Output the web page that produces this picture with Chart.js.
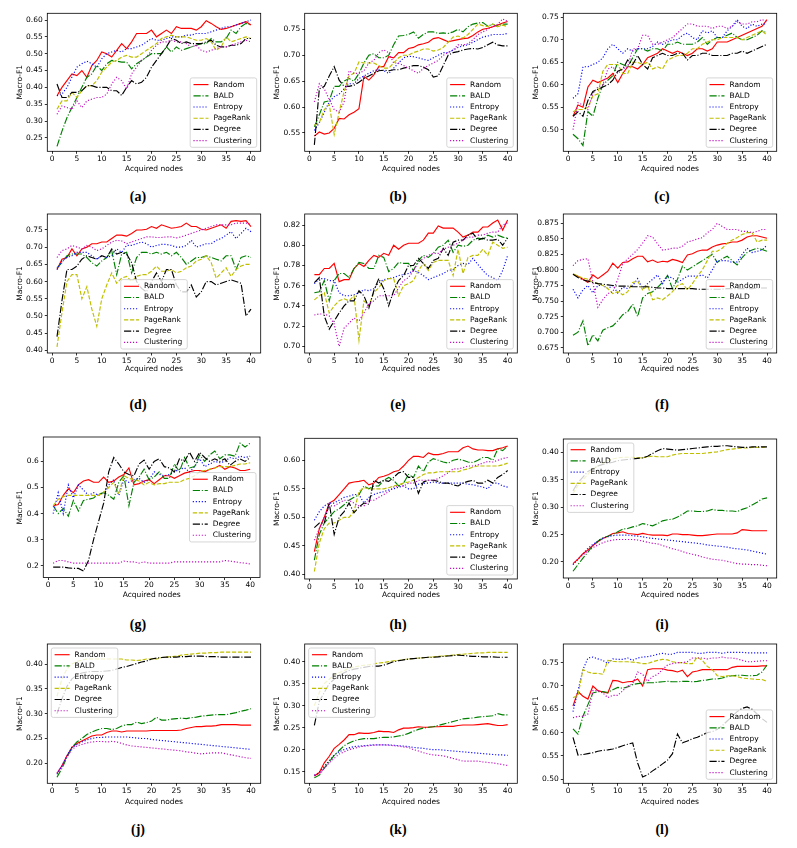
<!DOCTYPE html>
<html><head><meta charset="utf-8">
<script src="https://cdn.jsdelivr.net/npm/chart.js@4.4.0/dist/chart.umd.min.js"></script>
<style>
body{margin:0;background:#fff;width:797px;height:848px;position:relative;overflow:hidden}
canvas.pc{position:absolute}
.lbl{position:absolute;font-family:"Liberation Serif","DejaVu Serif",serif;font-weight:bold;font-size:14px;transform:translate(-50%,-50%);color:#000;white-space:nowrap}
</style></head><body>
<script>
// ---------- data ----------
const xNodes = [1,2,3,4,5,6,7,8,9,10,11,12,13,14,15,16,17,18,19,20,21,22,23,24,25,26,27,28,29,30,31,32,33,34,35,36,37,38,39,40];
const seriesNames = ['Random','BALD','Entropy','PageRank','Degree','Clustering'];
const panelLetters = ['(a)','(b)','(c)','(d)','(e)','(f)','(g)','(h)','(i)','(j)','(k)','(l)'];
const xTickLabelsStep = 5;

// panel (a)
const a_random = [0.375,0.40,0.42,0.44,0.435,0.45,0.43,0.465,0.48,0.505,0.50,0.49,0.51,0.53,0.515,0.535,0.56,0.56,0.56,0.57,0.55,0.56,0.57,0.56,0.58,0.575,0.575,0.575,0.57,0.58,0.598,0.59,0.58,0.572,0.575,0.58,0.585,0.59,0.595,0.585];
const a_bald = [0.225,0.27,0.31,0.34,0.37,0.40,0.43,0.44,0.465,0.45,0.47,0.48,0.478,0.475,0.475,0.455,0.47,0.48,0.49,0.50,0.50,0.50,0.52,0.505,0.52,0.51,0.515,0.52,0.525,0.53,0.53,0.545,0.535,0.535,0.545,0.57,0.56,0.58,0.59,0.585];
const a_entropy = [0.375,0.38,0.40,0.43,0.46,0.47,0.478,0.47,0.46,0.485,0.50,0.505,0.51,0.505,0.515,0.515,0.52,0.525,0.535,0.545,0.54,0.54,0.545,0.55,0.55,0.55,0.555,0.555,0.56,0.56,0.56,0.565,0.57,0.575,0.58,0.58,0.585,0.59,0.595,0.60];
const a_pagerank = [0.335,0.36,0.36,0.385,0.37,0.39,0.405,0.405,0.42,0.445,0.46,0.475,0.48,0.49,0.495,0.49,0.49,0.50,0.51,0.52,0.53,0.545,0.55,0.555,0.55,0.55,0.55,0.545,0.54,0.54,0.545,0.535,0.51,0.52,0.55,0.535,0.54,0.545,0.55,0.545];
const a_degree = [0.41,0.37,0.37,0.385,0.385,0.39,0.405,0.405,0.40,0.40,0.40,0.39,0.39,0.376,0.40,0.42,0.41,0.415,0.43,0.46,0.48,0.50,0.52,0.545,0.54,0.53,0.535,0.53,0.53,0.53,0.535,0.54,0.525,0.52,0.52,0.525,0.525,0.53,0.545,0.545];
const a_clustering = [0.32,0.345,0.34,0.335,0.36,0.34,0.36,0.365,0.37,0.37,0.38,0.41,0.43,0.42,0.395,0.44,0.46,0.48,0.49,0.51,0.525,0.535,0.535,0.54,0.535,0.535,0.53,0.52,0.525,0.51,0.505,0.51,0.515,0.52,0.52,0.525,0.53,0.535,0.54,0.535];
// panel (b)
const b_random = [0.544,0.552,0.548,0.55,0.559,0.578,0.577,0.585,0.59,0.597,0.659,0.652,0.662,0.678,0.678,0.697,0.695,0.705,0.705,0.713,0.715,0.72,0.722,0.725,0.732,0.734,0.73,0.726,0.728,0.73,0.732,0.733,0.738,0.745,0.75,0.752,0.755,0.758,0.762,0.765];
const b_bald = [0.562,0.585,0.61,0.612,0.64,0.64,0.65,0.655,0.65,0.665,0.685,0.70,0.703,0.695,0.695,0.70,0.72,0.737,0.738,0.74,0.745,0.733,0.74,0.745,0.745,0.742,0.743,0.742,0.745,0.75,0.745,0.755,0.76,0.762,0.763,0.756,0.76,0.755,0.76,0.76];
const b_entropy = [0.555,0.57,0.59,0.61,0.62,0.625,0.635,0.645,0.645,0.655,0.66,0.665,0.67,0.672,0.67,0.665,0.675,0.685,0.695,0.698,0.697,0.695,0.692,0.69,0.695,0.70,0.705,0.705,0.71,0.715,0.718,0.72,0.725,0.73,0.735,0.737,0.74,0.74,0.74,0.742];
const b_pagerank = [0.565,0.57,0.595,0.605,0.547,0.59,0.63,0.66,0.665,0.687,0.685,0.685,0.685,0.68,0.675,0.675,0.685,0.695,0.70,0.70,0.705,0.708,0.712,0.712,0.708,0.71,0.715,0.725,0.735,0.737,0.733,0.74,0.75,0.76,0.757,0.755,0.76,0.755,0.758,0.755];
const b_degree = [0.527,0.635,0.64,0.66,0.678,0.652,0.64,0.64,0.642,0.648,0.655,0.66,0.665,0.67,0.671,0.67,0.672,0.672,0.675,0.677,0.68,0.68,0.677,0.672,0.658,0.66,0.68,0.70,0.705,0.707,0.71,0.712,0.713,0.712,0.715,0.72,0.725,0.72,0.718,0.718];
const b_clustering = [0.61,0.645,0.635,0.615,0.595,0.59,0.61,0.67,0.665,0.665,0.67,0.685,0.69,0.705,0.71,0.705,0.685,0.685,0.68,0.675,0.67,0.665,0.675,0.68,0.685,0.69,0.70,0.705,0.71,0.72,0.72,0.722,0.73,0.74,0.745,0.75,0.755,0.76,0.77,0.765];
// panel (c)
const c_random = [0.53,0.555,0.55,0.595,0.61,0.605,0.61,0.615,0.625,0.605,0.625,0.64,0.64,0.635,0.645,0.66,0.665,0.67,0.68,0.675,0.67,0.675,0.67,0.665,0.67,0.68,0.68,0.675,0.68,0.695,0.695,0.695,0.70,0.705,0.71,0.715,0.72,0.725,0.73,0.745];
const c_bald = [0.49,0.48,0.465,0.54,0.53,0.57,0.60,0.61,0.62,0.65,0.645,0.64,0.66,0.68,0.68,0.675,0.68,0.68,0.675,0.69,0.69,0.695,0.69,0.69,0.69,0.695,0.705,0.69,0.70,0.705,0.705,0.71,0.715,0.705,0.70,0.70,0.705,0.71,0.72,0.715];
const c_entropy = [0.57,0.58,0.64,0.64,0.645,0.65,0.66,0.68,0.69,0.68,0.67,0.68,0.675,0.68,0.68,0.68,0.685,0.695,0.69,0.695,0.70,0.70,0.71,0.715,0.705,0.70,0.72,0.715,0.72,0.705,0.705,0.72,0.73,0.745,0.73,0.725,0.735,0.73,0.735,0.735];
const c_pagerank = [0.54,0.545,0.545,0.55,0.575,0.58,0.63,0.645,0.645,0.645,0.625,0.625,0.65,0.65,0.645,0.65,0.635,0.64,0.635,0.655,0.66,0.665,0.665,0.67,0.68,0.68,0.69,0.695,0.70,0.70,0.705,0.705,0.705,0.705,0.70,0.705,0.71,0.715,0.72,0.71];
const c_degree = [0.53,0.54,0.53,0.565,0.585,0.59,0.595,0.60,0.61,0.63,0.635,0.655,0.645,0.665,0.645,0.635,0.66,0.665,0.67,0.665,0.665,0.67,0.67,0.655,0.665,0.665,0.67,0.67,0.665,0.665,0.665,0.665,0.67,0.67,0.675,0.67,0.675,0.68,0.685,0.69];
const c_clustering = [0.50,0.56,0.555,0.545,0.58,0.595,0.60,0.635,0.64,0.625,0.635,0.64,0.68,0.68,0.71,0.71,0.69,0.69,0.695,0.70,0.705,0.715,0.725,0.735,0.735,0.73,0.73,0.73,0.725,0.73,0.73,0.725,0.73,0.74,0.735,0.735,0.74,0.74,0.745,0.74];
// panel (d)
const d_random = [0.635,0.665,0.67,0.695,0.675,0.695,0.70,0.71,0.71,0.715,0.715,0.725,0.735,0.735,0.732,0.74,0.75,0.75,0.752,0.76,0.755,0.765,0.76,0.755,0.757,0.76,0.77,0.76,0.76,0.752,0.75,0.755,0.76,0.765,0.755,0.775,0.777,0.775,0.777,0.76];
const d_bald = [0.64,0.655,0.675,0.68,0.68,0.68,0.67,0.655,0.645,0.66,0.67,0.69,0.62,0.68,0.685,0.625,0.67,0.685,0.685,0.68,0.685,0.68,0.685,0.675,0.685,0.67,0.65,0.66,0.67,0.67,0.675,0.67,0.665,0.66,0.675,0.675,0.635,0.67,0.675,0.67];
const d_entropy = [0.635,0.66,0.67,0.675,0.685,0.685,0.685,0.675,0.665,0.675,0.67,0.675,0.695,0.685,0.705,0.705,0.71,0.715,0.71,0.70,0.705,0.708,0.708,0.705,0.70,0.70,0.705,0.72,0.70,0.705,0.71,0.71,0.72,0.725,0.735,0.745,0.725,0.74,0.755,0.745];
const d_pagerank = [0.41,0.51,0.60,0.62,0.62,0.55,0.585,0.52,0.47,0.55,0.59,0.625,0.595,0.61,0.615,0.60,0.615,0.62,0.62,0.63,0.645,0.63,0.63,0.635,0.625,0.63,0.64,0.645,0.66,0.665,0.675,0.655,0.61,0.625,0.64,0.615,0.635,0.645,0.65,0.65];
const d_degree = [0.44,0.545,0.635,0.635,0.645,0.665,0.675,0.67,0.665,0.675,0.67,0.695,0.68,0.685,0.68,0.655,0.60,0.58,0.57,0.60,0.625,0.60,0.635,0.635,0.59,0.57,0.57,0.59,0.555,0.57,0.60,0.60,0.59,0.595,0.60,0.605,0.60,0.595,0.50,0.52];
const d_clustering = [0.67,0.69,0.695,0.705,0.70,0.695,0.705,0.70,0.69,0.695,0.705,0.715,0.72,0.718,0.71,0.715,0.72,0.725,0.73,0.73,0.728,0.728,0.73,0.73,0.727,0.73,0.735,0.74,0.745,0.75,0.755,0.76,0.765,0.765,0.765,0.765,0.77,0.77,0.77,0.765];
// panel (e)
const e_random = [0.771,0.771,0.777,0.777,0.782,0.764,0.766,0.766,0.777,0.782,0.779,0.785,0.790,0.788,0.792,0.790,0.800,0.796,0.800,0.802,0.802,0.802,0.805,0.812,0.812,0.819,0.817,0.817,0.817,0.813,0.808,0.810,0.813,0.813,0.818,0.818,0.822,0.825,0.815,0.825];
const e_bald = [0.753,0.754,0.765,0.745,0.765,0.772,0.772,0.768,0.777,0.783,0.782,0.777,0.777,0.790,0.788,0.774,0.777,0.783,0.782,0.782,0.775,0.785,0.790,0.788,0.792,0.798,0.800,0.805,0.793,0.800,0.799,0.800,0.805,0.807,0.806,0.810,0.808,0.810,0.808,0.807];
const e_entropy = [0.762,0.767,0.767,0.765,0.765,0.753,0.750,0.750,0.751,0.753,0.756,0.755,0.757,0.763,0.766,0.767,0.768,0.770,0.771,0.772,0.775,0.773,0.770,0.766,0.768,0.770,0.772,0.775,0.776,0.780,0.782,0.781,0.787,0.781,0.775,0.770,0.768,0.765,0.775,0.790];
const e_pagerank = [0.746,0.750,0.753,0.733,0.740,0.745,0.747,0.745,0.750,0.706,0.745,0.740,0.753,0.758,0.765,0.767,0.767,0.750,0.760,0.762,0.765,0.775,0.782,0.775,0.783,0.785,0.785,0.785,0.770,0.796,0.772,0.788,0.790,0.790,0.796,0.790,0.803,0.800,0.797,0.798];
const e_degree = [0.763,0.768,0.730,0.717,0.725,0.733,0.740,0.745,0.745,0.755,0.750,0.738,0.755,0.767,0.757,0.740,0.755,0.765,0.770,0.780,0.780,0.787,0.782,0.777,0.785,0.787,0.797,0.790,0.803,0.805,0.805,0.810,0.812,0.805,0.807,0.805,0.805,0.806,0.800,0.807];
const e_clustering = [0.731,0.732,0.732,0.730,0.722,0.700,0.718,0.723,0.728,0.725,0.733,0.742,0.745,0.750,0.750,0.750,0.750,0.758,0.765,0.768,0.775,0.783,0.787,0.790,0.792,0.792,0.796,0.798,0.800,0.802,0.805,0.808,0.808,0.810,0.810,0.812,0.813,0.813,0.820,0.822];
// panel (f)
const f_random = [0.793,0.790,0.785,0.780,0.792,0.786,0.792,0.798,0.811,0.803,0.812,0.813,0.818,0.822,0.822,0.813,0.816,0.812,0.814,0.813,0.817,0.815,0.812,0.824,0.826,0.830,0.832,0.832,0.837,0.840,0.842,0.843,0.845,0.845,0.848,0.853,0.855,0.855,0.853,0.851];
const f_bald = [0.695,0.700,0.718,0.678,0.696,0.686,0.703,0.707,0.710,0.718,0.728,0.733,0.745,0.725,0.755,0.762,0.765,0.772,0.780,0.791,0.770,0.785,0.806,0.800,0.805,0.810,0.815,0.820,0.825,0.812,0.818,0.822,0.815,0.808,0.820,0.828,0.832,0.835,0.833,0.830];
const f_entropy = [0.769,0.755,0.768,0.775,0.763,0.775,0.775,0.770,0.775,0.763,0.772,0.770,0.775,0.786,0.770,0.778,0.785,0.792,0.778,0.790,0.787,0.780,0.785,0.790,0.790,0.790,0.792,0.787,0.800,0.815,0.815,0.815,0.812,0.813,0.825,0.835,0.828,0.830,0.832,0.840];
const f_pagerank = [0.794,0.790,0.787,0.785,0.780,0.778,0.775,0.770,0.762,0.765,0.760,0.765,0.780,0.782,0.768,0.775,0.752,0.755,0.752,0.758,0.765,0.775,0.778,0.768,0.778,0.790,0.800,0.815,0.830,0.830,0.835,0.843,0.848,0.852,0.857,0.860,0.860,0.845,0.848,0.848];
const f_degree = [0.793,0.788,0.784,0.782,0.780,0.778,0.777,0.776,0.775,0.774,0.774,0.774,0.773,0.773,0.773,0.773,0.772,0.771,0.771,0.770,0.770,0.770,0.770,0.770,0.770,0.769,0.769,0.769,0.769,0.769,0.769,0.770,0.770,0.770,0.770,0.770,0.770,0.771,0.771,0.771];
const f_clustering = [0.807,0.815,0.817,0.818,0.780,0.740,0.752,0.762,0.765,0.785,0.810,0.818,0.825,0.833,0.843,0.855,0.853,0.842,0.832,0.833,0.835,0.835,0.838,0.845,0.847,0.850,0.852,0.860,0.865,0.875,0.870,0.865,0.865,0.865,0.862,0.862,0.860,0.862,0.865,0.865];
// panel (g)
const g_random = [0.43,0.435,0.47,0.495,0.48,0.51,0.525,0.53,0.52,0.52,0.54,0.52,0.525,0.54,0.55,0.575,0.51,0.515,0.525,0.53,0.515,0.53,0.545,0.545,0.535,0.545,0.555,0.56,0.565,0.565,0.56,0.57,0.575,0.585,0.57,0.58,0.575,0.565,0.565,0.57];
const g_bald = [0.43,0.40,0.42,0.39,0.45,0.41,0.45,0.455,0.46,0.475,0.48,0.47,0.455,0.52,0.545,0.43,0.52,0.54,0.57,0.53,0.54,0.56,0.535,0.535,0.59,0.56,0.615,0.575,0.58,0.625,0.60,0.625,0.64,0.61,0.625,0.625,0.62,0.67,0.655,0.67];
const g_entropy = [0.40,0.48,0.40,0.51,0.46,0.51,0.49,0.47,0.48,0.47,0.48,0.51,0.53,0.47,0.53,0.52,0.53,0.535,0.52,0.53,0.56,0.55,0.545,0.55,0.56,0.57,0.575,0.56,0.58,0.61,0.58,0.59,0.60,0.595,0.60,0.615,0.61,0.62,0.615,0.62];
const g_pagerank = [0.43,0.455,0.465,0.47,0.47,0.47,0.47,0.47,0.47,0.47,0.48,0.50,0.52,0.475,0.545,0.535,0.53,0.525,0.51,0.52,0.51,0.515,0.515,0.52,0.52,0.52,0.53,0.535,0.545,0.56,0.565,0.57,0.575,0.58,0.58,0.58,0.585,0.59,0.59,0.595];
const g_degree = [0.195,0.195,0.195,0.192,0.19,0.19,0.18,0.22,0.30,0.37,0.44,0.56,0.615,0.59,0.56,0.55,0.545,0.59,0.605,0.57,0.60,0.61,0.58,0.575,0.56,0.61,0.60,0.635,0.60,0.635,0.615,0.60,0.61,0.60,0.61,0.585,0.60,0.61,0.60,0.615];
const g_clustering = [0.21,0.22,0.22,0.215,0.21,0.21,0.21,0.21,0.21,0.21,0.21,0.21,0.21,0.21,0.218,0.215,0.215,0.21,0.215,0.21,0.21,0.21,0.21,0.21,0.215,0.215,0.215,0.215,0.215,0.215,0.215,0.215,0.215,0.215,0.22,0.218,0.215,0.212,0.21,0.207];
// panel (h)
const h_random = [0.44,0.48,0.50,0.525,0.53,0.54,0.55,0.56,0.562,0.563,0.565,0.557,0.56,0.57,0.572,0.575,0.58,0.582,0.59,0.60,0.607,0.607,0.605,0.613,0.61,0.61,0.612,0.615,0.615,0.615,0.622,0.625,0.62,0.618,0.618,0.617,0.617,0.62,0.622,0.625];
const h_bald = [0.425,0.47,0.49,0.50,0.51,0.515,0.522,0.53,0.535,0.54,0.555,0.55,0.555,0.555,0.565,0.57,0.565,0.555,0.56,0.575,0.57,0.59,0.58,0.597,0.603,0.60,0.597,0.595,0.60,0.602,0.60,0.597,0.596,0.60,0.605,0.605,0.60,0.62,0.617,0.625];
const h_entropy = [0.495,0.51,0.52,0.525,0.525,0.53,0.535,0.537,0.54,0.54,0.525,0.535,0.54,0.543,0.545,0.548,0.55,0.553,0.555,0.55,0.55,0.558,0.56,0.56,0.562,0.56,0.56,0.56,0.56,0.56,0.56,0.558,0.557,0.555,0.553,0.55,0.56,0.56,0.555,0.553];
const h_pagerank = [0.405,0.455,0.48,0.49,0.49,0.495,0.50,0.50,0.51,0.545,0.552,0.55,0.55,0.55,0.55,0.552,0.555,0.557,0.56,0.562,0.565,0.57,0.575,0.578,0.578,0.58,0.58,0.58,0.58,0.58,0.583,0.585,0.588,0.59,0.59,0.59,0.59,0.59,0.592,0.595];
const h_degree = [0.482,0.49,0.49,0.525,0.47,0.50,0.51,0.525,0.508,0.518,0.525,0.523,0.565,0.56,0.565,0.563,0.57,0.578,0.58,0.57,0.57,0.542,0.562,0.565,0.565,0.563,0.56,0.56,0.557,0.555,0.56,0.563,0.565,0.56,0.56,0.565,0.56,0.57,0.575,0.582];
const h_clustering = [0.46,0.48,0.50,0.52,0.52,0.525,0.53,0.53,0.525,0.52,0.52,0.53,0.53,0.535,0.54,0.545,0.553,0.555,0.555,0.56,0.56,0.565,0.565,0.565,0.565,0.568,0.573,0.578,0.585,0.585,0.587,0.59,0.59,0.592,0.595,0.598,0.597,0.600,0.603,0.605];
// panel (i)
const i_random = [0.197,0.205,0.215,0.222,0.23,0.237,0.243,0.247,0.252,0.253,0.255,0.252,0.251,0.250,0.252,0.250,0.249,0.249,0.249,0.248,0.251,0.251,0.250,0.250,0.249,0.248,0.248,0.249,0.250,0.251,0.251,0.251,0.251,0.253,0.259,0.258,0.257,0.257,0.257,0.257];
const i_bald = [0.183,0.195,0.207,0.218,0.23,0.238,0.244,0.247,0.25,0.255,0.26,0.261,0.264,0.266,0.27,0.268,0.266,0.27,0.275,0.277,0.278,0.282,0.287,0.293,0.293,0.292,0.292,0.293,0.296,0.294,0.294,0.293,0.293,0.292,0.296,0.299,0.304,0.309,0.315,0.317];
const i_entropy = [0.195,0.205,0.215,0.225,0.232,0.238,0.243,0.246,0.248,0.249,0.249,0.249,0.248,0.247,0.246,0.244,0.243,0.242,0.241,0.240,0.239,0.238,0.237,0.236,0.235,0.234,0.233,0.231,0.230,0.229,0.228,0.227,0.225,0.224,0.223,0.222,0.220,0.218,0.216,0.214];
const i_pagerank = [0.325,0.34,0.35,0.36,0.37,0.375,0.38,0.385,0.388,0.39,0.391,0.391,0.391,0.39,0.39,0.392,0.393,0.392,0.392,0.392,0.395,0.397,0.398,0.398,0.398,0.398,0.398,0.399,0.400,0.401,0.403,0.405,0.406,0.407,0.408,0.408,0.409,0.409,0.409,0.410];
const i_degree = [0.33,0.345,0.355,0.365,0.37,0.375,0.378,0.38,0.382,0.385,0.386,0.387,0.388,0.389,0.39,0.393,0.398,0.403,0.407,0.406,0.405,0.404,0.405,0.406,0.407,0.408,0.409,0.410,0.411,0.411,0.412,0.412,0.411,0.41,0.409,0.409,0.41,0.41,0.41,0.41];
const i_clustering = [0.195,0.205,0.213,0.22,0.226,0.231,0.235,0.238,0.24,0.241,0.241,0.241,0.241,0.24,0.238,0.236,0.234,0.233,0.23,0.227,0.224,0.222,0.219,0.216,0.214,0.212,0.209,0.207,0.205,0.204,0.203,0.201,0.199,0.197,0.196,0.196,0.195,0.195,0.194,0.193];
// panel (j)
const j_random = [0.18,0.195,0.215,0.232,0.24,0.245,0.25,0.255,0.257,0.257,0.262,0.265,0.265,0.263,0.265,0.265,0.265,0.265,0.265,0.266,0.266,0.266,0.266,0.266,0.266,0.267,0.27,0.272,0.274,0.274,0.275,0.275,0.276,0.278,0.278,0.278,0.278,0.277,0.277,0.277];
const j_bald = [0.172,0.19,0.212,0.232,0.243,0.25,0.258,0.263,0.267,0.27,0.27,0.268,0.27,0.275,0.278,0.278,0.283,0.28,0.282,0.285,0.293,0.287,0.287,0.289,0.29,0.291,0.29,0.292,0.293,0.295,0.296,0.297,0.298,0.298,0.298,0.3,0.302,0.305,0.307,0.31];
const j_entropy = [0.178,0.195,0.215,0.232,0.238,0.243,0.247,0.25,0.252,0.252,0.253,0.253,0.253,0.253,0.253,0.252,0.251,0.25,0.25,0.248,0.247,0.246,0.245,0.244,0.243,0.242,0.241,0.24,0.239,0.238,0.237,0.236,0.235,0.234,0.233,0.232,0.231,0.23,0.229,0.228];
const j_pagerank = [0.335,0.37,0.39,0.40,0.405,0.408,0.41,0.41,0.41,0.41,0.41,0.41,0.41,0.41,0.408,0.408,0.407,0.408,0.41,0.41,0.41,0.413,0.414,0.415,0.416,0.418,0.419,0.42,0.421,0.422,0.422,0.423,0.423,0.424,0.424,0.424,0.424,0.424,0.424,0.424];
const j_degree = [0.30,0.33,0.355,0.37,0.378,0.382,0.384,0.385,0.385,0.385,0.386,0.387,0.39,0.393,0.395,0.398,0.401,0.404,0.406,0.41,0.412,0.413,0.414,0.414,0.414,0.415,0.415,0.416,0.416,0.416,0.415,0.415,0.415,0.414,0.414,0.414,0.414,0.414,0.414,0.414];
const j_clustering = [0.18,0.195,0.213,0.228,0.235,0.238,0.241,0.243,0.244,0.244,0.243,0.244,0.243,0.24,0.237,0.235,0.234,0.233,0.232,0.231,0.23,0.229,0.228,0.227,0.226,0.225,0.223,0.222,0.22,0.219,0.22,0.221,0.221,0.221,0.219,0.217,0.215,0.213,0.211,0.21];
// panel (k)
const k_random = [0.14,0.148,0.17,0.185,0.203,0.212,0.222,0.234,0.234,0.238,0.237,0.237,0.239,0.242,0.241,0.241,0.239,0.245,0.249,0.249,0.25,0.252,0.251,0.251,0.252,0.252,0.253,0.253,0.253,0.255,0.256,0.256,0.256,0.257,0.258,0.259,0.257,0.255,0.255,0.257];
const k_bald = [0.136,0.142,0.158,0.172,0.187,0.198,0.209,0.215,0.22,0.223,0.225,0.225,0.225,0.227,0.228,0.228,0.229,0.231,0.233,0.237,0.242,0.246,0.249,0.251,0.252,0.255,0.258,0.261,0.264,0.267,0.27,0.271,0.272,0.274,0.275,0.276,0.277,0.282,0.279,0.279];
const k_entropy = [0.142,0.148,0.162,0.175,0.188,0.195,0.2,0.204,0.207,0.208,0.209,0.21,0.211,0.211,0.211,0.211,0.21,0.209,0.208,0.207,0.205,0.204,0.203,0.201,0.2,0.2,0.199,0.198,0.197,0.196,0.195,0.194,0.193,0.192,0.191,0.19,0.189,0.188,0.188,0.187];
const k_pagerank = [0.30,0.33,0.35,0.36,0.37,0.375,0.38,0.385,0.388,0.39,0.392,0.393,0.395,0.397,0.398,0.4,0.402,0.403,0.405,0.406,0.407,0.408,0.409,0.41,0.411,0.412,0.413,0.414,0.415,0.416,0.417,0.418,0.419,0.42,0.42,0.421,0.421,0.421,0.421,0.421];
const k_degree = [0.255,0.31,0.33,0.35,0.36,0.368,0.375,0.38,0.383,0.385,0.387,0.389,0.39,0.39,0.392,0.396,0.4,0.402,0.404,0.406,0.407,0.408,0.409,0.41,0.41,0.411,0.412,0.413,0.414,0.415,0.414,0.413,0.412,0.412,0.411,0.411,0.411,0.41,0.41,0.41];
const k_clustering = [0.142,0.145,0.158,0.17,0.18,0.19,0.195,0.2,0.203,0.206,0.208,0.209,0.21,0.211,0.211,0.21,0.209,0.208,0.206,0.205,0.2,0.197,0.193,0.19,0.188,0.187,0.186,0.183,0.18,0.177,0.174,0.174,0.174,0.174,0.172,0.171,0.17,0.168,0.166,0.164];
// panel (l)
const l_random = [0.657,0.688,0.678,0.672,0.70,0.69,0.687,0.685,0.712,0.711,0.707,0.709,0.71,0.715,0.70,0.735,0.737,0.737,0.737,0.734,0.733,0.73,0.734,0.72,0.73,0.732,0.735,0.735,0.735,0.735,0.735,0.735,0.74,0.742,0.742,0.742,0.742,0.742,0.743,0.743];
const l_bald = [0.608,0.597,0.635,0.66,0.685,0.688,0.688,0.686,0.692,0.697,0.695,0.698,0.703,0.705,0.706,0.707,0.707,0.708,0.709,0.71,0.709,0.709,0.71,0.71,0.709,0.71,0.712,0.713,0.715,0.715,0.717,0.72,0.722,0.723,0.723,0.722,0.722,0.723,0.73,0.745];
const l_entropy = [0.645,0.69,0.735,0.76,0.762,0.758,0.755,0.748,0.758,0.757,0.757,0.76,0.755,0.76,0.762,0.763,0.765,0.768,0.77,0.768,0.768,0.772,0.772,0.772,0.772,0.77,0.77,0.772,0.772,0.772,0.77,0.772,0.772,0.772,0.772,0.771,0.771,0.771,0.771,0.771];
const l_pagerank = [0.675,0.68,0.735,0.73,0.727,0.727,0.725,0.755,0.753,0.752,0.752,0.752,0.751,0.75,0.748,0.748,0.752,0.755,0.757,0.756,0.752,0.75,0.75,0.748,0.748,0.762,0.755,0.742,0.735,0.722,0.72,0.722,0.722,0.72,0.717,0.716,0.715,0.714,0.714,0.71];
const l_degree = [0.59,0.552,0.553,0.555,0.557,0.56,0.562,0.563,0.565,0.568,0.572,0.575,0.578,0.535,0.505,0.51,0.518,0.525,0.533,0.541,0.555,0.597,0.578,0.582,0.587,0.59,0.595,0.60,0.602,0.607,0.615,0.625,0.635,0.645,0.652,0.655,0.65,0.64,0.63,0.622];
const l_clustering = [0.632,0.635,0.635,0.64,0.69,0.69,0.685,0.675,0.68,0.68,0.69,0.70,0.705,0.73,0.725,0.71,0.72,0.725,0.735,0.745,0.748,0.75,0.75,0.752,0.76,0.76,0.76,0.758,0.76,0.76,0.762,0.76,0.76,0.758,0.755,0.752,0.752,0.753,0.754,0.754];

// y-axis ranges and tick steps
const yLow  = [0.2102,0.5147,0.452,0.3923,0.6934,0.6664,0.155,0.3918,0.1707,0.1597,0.1235,0.4914];
const yHigh = [0.6199,0.7808,0.7589,0.7964,0.8309,0.890,0.6936,0.6386,0.4244,0.4403,0.4402,0.79];
const yStep = [0.05,0.05,0.05,0.05,0.02,0.025,0.1,0.05,0.05,0.05,0.05,0.05];
const yDecimals = [2,2,2,2,2,3,1,2,2,2,2,2];

const panelData = [
  [a_random,a_bald,a_entropy,a_pagerank,a_degree,a_clustering],
  [b_random,b_bald,b_entropy,b_pagerank,b_degree,b_clustering],
  [c_random,c_bald,c_entropy,c_pagerank,c_degree,c_clustering],
  [d_random,d_bald,d_entropy,d_pagerank,d_degree,d_clustering],
  [e_random,e_bald,e_entropy,e_pagerank,e_degree,e_clustering],
  [f_random,f_bald,f_entropy,f_pagerank,f_degree,f_clustering],
  [g_random,g_bald,g_entropy,g_pagerank,g_degree,g_clustering],
  [h_random,h_bald,h_entropy,h_pagerank,h_degree,h_clustering],
  [i_random,i_bald,i_entropy,i_pagerank,i_degree,i_clustering],
  [j_random,j_bald,j_entropy,j_pagerank,j_degree,j_clustering],
  [k_random,k_bald,k_entropy,k_pagerank,k_degree,k_clustering],
  [l_random,l_bald,l_entropy,l_pagerank,l_degree,l_clustering]
];

// ---------- styles & layout ----------
const seriesColors = ['#ff0000','#008000','#0000ff','#bfbf00','#000000','#bf00bf'];
const seriesDash = [[], [7.2,1.8,1.1,1.8], [1.1,1.9], [4.2,1.8], [7.2,1.8,1.1,1.8], [1.1,1.9]];
const legendLoc = ['lr','lr','lr','lc','lr','lr','cr','lr','ul','ul','ul','lr'];
// plot box: left, right, top, bottom ; y-title center x ; x-title center y
const geom = [
  [47.3,260.7,13.3,151.3,20,169],[304.7,517.3,13.3,151.3,277.3,169],[563.3,776.7,13.3,151.3,536,169],
  [47.3,260.7,214,353,20,369],[304.7,517.3,214,353,277.3,369],[563.3,776.7,214,353,536,369],
  [43.3,260,437,577.5,20,595.5],[304.7,517.3,438.3,579,277.3,595.5],[563.3,776.7,439,578,536,595.5],
  [47.3,260.7,644,783.3,20,802],[304.7,517.3,644,783.3,277.3,802],[563.3,776.7,644,783.3,536,802]
];
const letterPos = [[138,197],[398,197],[662,197],[138,405],[398,405],[662,405],[138,625],[398,625],[662,625],[138,830],[398,830],[662,830]];

const FONT = 'DejaVu Sans';
const FS = 7.5;

const frameAndLegend = {
  id: 'frameAndLegend',
  afterDatasetsDraw(chart, args, opts) {
    const ctx = chart.ctx, ca = chart.chartArea;
    ctx.save();
    ctx.strokeStyle = '#000'; ctx.lineWidth = 0.8; ctx.setLineDash([]);
    ctx.strokeRect(ca.left, ca.top, ca.right - ca.left, ca.bottom - ca.top);
    ctx.font = FS + 'px "' + FONT + '"';
    const ds = chart.data.datasets;
    const maxW = Math.max(...ds.map(d => ctx.measureText(d.label).width));
    const w = 23.3 + maxW + 5, rowH = 11.2, h = 6.7 * 2 + rowH * (ds.length - 1), pad = 4;
    let x, y;
    if (opts.loc === 'lr') { x = ca.right - pad - w; y = ca.bottom - pad - h; }
    else if (opts.loc === 'ul') { x = ca.left + pad; y = ca.top + pad; }
    else if (opts.loc === 'cr') { x = ca.right - pad - w; y = (ca.top + ca.bottom) / 2 - h / 2; }
    else { x = (ca.left + ca.right) / 2 - w / 2; y = ca.bottom - pad - h; }
    ctx.beginPath();
    if (ctx.roundRect) ctx.roundRect(x, y, w, h, 2); else ctx.rect(x, y, w, h);
    ctx.fillStyle = 'rgba(255,255,255,0.8)'; ctx.fill();
    ctx.strokeStyle = '#cccccc'; ctx.lineWidth = 0.8; ctx.stroke();
    ds.forEach((d, i) => {
      const cy = y + 6.7 + i * rowH;
      ctx.beginPath();
      ctx.setLineDash(d.borderDash || []);
      ctx.strokeStyle = d.borderColor; ctx.lineWidth = d.borderWidth;
      ctx.moveTo(x + 3.3, cy); ctx.lineTo(x + 18.3, cy); ctx.stroke();
      ctx.setLineDash([]);
      ctx.fillStyle = '#000'; ctx.textBaseline = 'middle'; ctx.textAlign = 'left';
      ctx.fillText(d.label, x + 23.3, cy);
    });
    ctx.restore();
  }
};

panelData.forEach((series, p) => {
  const [bL, bR, bT, bB, ytX, xtY] = geom[p];
  const cLeft = Math.round(ytX - FS * 1.2 / 2);
  const cTop = Math.round(bT - 8);
  const cWidth = Math.ceil(bR + 8 - cLeft);
  const cHeight = Math.ceil(xtY + FS * 1.2 / 2 - cTop);
  const yW = bL - cLeft;
  const padTop = bT - cTop;
  const padRight = cWidth - (bR - cLeft);
  const padBottom = (cTop + cHeight) - (xtY + FS * 1.2 / 2);
  const xH = (xtY + FS * 1.2 / 2) - bB;

  const cv = document.createElement('canvas');
  cv.className = 'pc';
  cv.width = cWidth; cv.height = cHeight;
  cv.style.left = cLeft + 'px'; cv.style.top = cTop + 'px';
  cv.style.width = cWidth + 'px'; cv.style.height = cHeight + 'px';
  document.body.appendChild(cv);

  const lab = document.createElement('div');
  lab.className = 'lbl';
  lab.textContent = panelLetters[p];
  lab.style.left = letterPos[p][0] + 'px'; lab.style.top = letterPos[p][1] + 'px';
  document.body.appendChild(lab);

  const datasets = series.map((vals, s) => ({
    label: seriesNames[s],
    data: vals.map((v, i) => ({x: xNodes[i], y: v})),
    borderColor: seriesColors[s],
    backgroundColor: seriesColors[s],
    borderWidth: 1.15,
    borderDash: seriesDash[s],
    pointRadius: 0,
    tension: 0,
    fill: false,
    order: 5 - s
  }));

  const tickFont = {family: FONT, size: FS};
  new Chart(cv, {
    type: 'line',
    data: {datasets},
    plugins: [frameAndLegend],
    options: {
      responsive: false, animation: false, devicePixelRatio: 1,
      layout: {padding: {top: padTop, right: padRight, bottom: padBottom, left: 0}},
      plugins: {legend: {display: false}, tooltip: {enabled: false}, frameAndLegend: {loc: legendLoc[p]}},
      scales: {
        x: {
          type: 'linear', min: -0.95, max: 41.95,
          afterFit(s) { s.height = xH; },
          ticks: {stepSize: xTickLabelsStep, includeBounds: false, autoSkip: false, maxRotation: 0, padding: 1, color: '#000', font: tickFont, callback: v => v.toFixed(0)},
          grid: {drawOnChartArea: false, tickLength: 2.5, color: '#000', tickColor: '#000', lineWidth: 0.8},
          border: {display: false},
          title: {display: true, text: 'Acquired nodes', padding: 0, color: '#000', font: tickFont}
        },
        y: {
          type: 'linear', min: yLow[p], max: yHigh[p],
          afterFit(s) { s.width = yW; },
          ticks: {stepSize: yStep[p], includeBounds: false, autoSkip: false, padding: 2, color: '#000', font: tickFont, callback: v => v.toFixed(yDecimals[p])},
          grid: {drawOnChartArea: false, tickLength: 2.5, color: '#000', tickColor: '#000', lineWidth: 0.8},
          border: {display: false},
          title: {display: true, text: 'Macro-F1', padding: 0, color: '#000', font: tickFont}
        }
      }
    }
  });
});
</script>
</body></html>
